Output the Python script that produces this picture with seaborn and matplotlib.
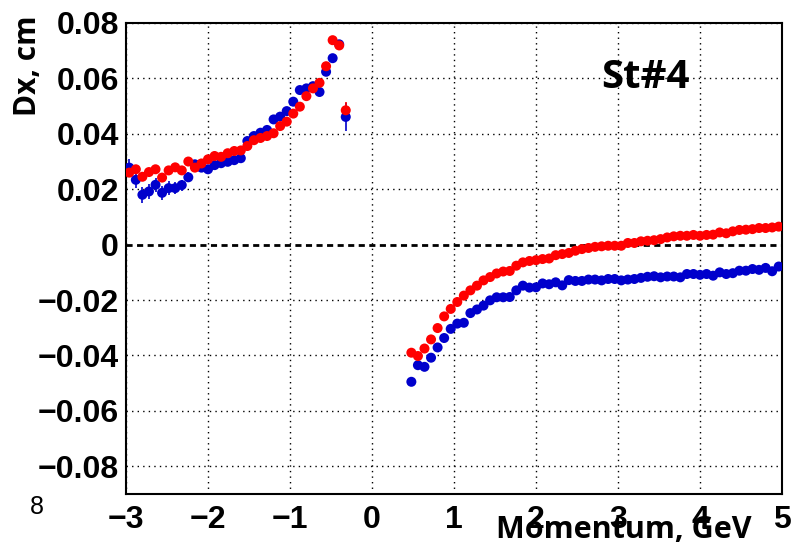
import numpy as np
import pandas as pd
import matplotlib
matplotlib.use("Agg")
import matplotlib.pyplot as plt
from matplotlib.ticker import MultipleLocator
import seaborn as sns

# Bin centres (GeV) for negative and positive momenta
p_neg = [-2.96, -2.88, -2.80, -2.72, -2.64, -2.56, -2.48, -2.40, -2.32, -2.24,
         -2.16, -2.08, -2.00, -1.92, -1.84, -1.76, -1.68, -1.60, -1.52, -1.44,
         -1.36, -1.28, -1.20, -1.12, -1.04, -0.96, -0.88, -0.80, -0.72, -0.64,
         -0.56, -0.48, -0.40, -0.32]
p_pos = [0.48, 0.56, 0.64, 0.72, 0.80, 0.88, 0.96, 1.04, 1.12, 1.20,
         1.28, 1.36, 1.44, 1.52, 1.60, 1.68, 1.76, 1.84, 1.92, 2.00,
         2.08, 2.16, 2.24, 2.32, 2.40, 2.48, 2.56, 2.64, 2.72, 2.80,
         2.88, 2.96, 3.04, 3.12, 3.20, 3.28, 3.36, 3.44, 3.52, 3.60,
         3.68, 3.76, 3.84, 3.92, 4.00, 4.08, 4.16, 4.24, 4.32, 4.40,
         4.48, 4.56, 4.64, 4.72, 4.80, 4.88, 4.96]

# Dx (cm), red series
red_neg = [0.0260, 0.0272, 0.0245, 0.0262, 0.0272, 0.0242, 0.0268, 0.0279, 0.0268, 0.0300,
           0.0278, 0.0293, 0.0308, 0.0320, 0.0317, 0.0330, 0.0338, 0.0340, 0.0356, 0.0377,
           0.0385, 0.0392, 0.0402, 0.0428, 0.0444, 0.0473, 0.0498, 0.0536, 0.0564, 0.0584,
           0.0644, 0.0738, 0.0719, 0.0485]
red_pos = [-0.0390, -0.0402, -0.0375, -0.0342, -0.0301, -0.0259, -0.0232, -0.0207, -0.0184, -0.0165,
           -0.0148, -0.0129, -0.0117, -0.0104, -0.0097, -0.0095, -0.0076, -0.0064, -0.0059, -0.0056,
           -0.0052, -0.0050, -0.0038, -0.0034, -0.0030, -0.0022, -0.0016, -0.0012, -0.0008, -0.0006,
           -0.0004, -0.0004, -0.0004, 0.0006, 0.0006, 0.0012, 0.0014, 0.0016, 0.0020, 0.0026,
           0.0030, 0.0032, 0.0032, 0.0035, 0.0032, 0.0035, 0.0036, 0.0044, 0.0041, 0.0048,
           0.0053, 0.0054, 0.0056, 0.0060, 0.0060, 0.0062, 0.0065]

# Dx (cm), blue series
blue_neg = [0.0278, 0.0234, 0.0180, 0.0192, 0.0216, 0.0187, 0.0204, 0.0204, 0.0215, 0.0243,
            0.0290, 0.0278, 0.0272, 0.0287, 0.0294, 0.0299, 0.0305, 0.0312, 0.0374, 0.0392,
            0.0404, 0.0414, 0.0452, 0.0462, 0.0482, 0.0516, 0.0558, 0.0564, 0.0572, 0.0551,
            0.0624, 0.0673, 0.0723, 0.0461]
blue_pos = [-0.0495, -0.0435, -0.0441, -0.0408, -0.0371, -0.0337, -0.0304, -0.0285, -0.0282, -0.0247,
            -0.0234, -0.0220, -0.0201, -0.0190, -0.0190, -0.0189, -0.0165, -0.0148, -0.0155, -0.0154,
            -0.0140, -0.0143, -0.0136, -0.0147, -0.0128, -0.0131, -0.0131, -0.0126, -0.0126, -0.0129,
            -0.0124, -0.0124, -0.0129, -0.0126, -0.0124, -0.0120, -0.0116, -0.0114, -0.0118, -0.0115,
            -0.0115, -0.0118, -0.0106, -0.0106, -0.0109, -0.0106, -0.0112, -0.0100, -0.0106, -0.0103,
            -0.0094, -0.0094, -0.0088, -0.0091, -0.0084, -0.0096, -0.0079]

# Statistical uncertainties (cm)
red_neg_err = [0.0015] * 33 + [0.0030]
blue_neg_err = [0.0030, 0.0028, 0.0028, 0.0026, 0.0026, 0.0026, 0.0024, 0.0022, 0.0020, 0.0018] + [0.0012] * 23 + [0.0050]
red_pos_err = [0.0010] * 57
blue_pos_err = [0.0016] + [0.0008] * 56

x_ticks = [-3, -2, -1, 0, 1, 2, 3, 4, 5]
y_ticks = [-0.08, -0.06, -0.04, -0.02, 0, 0.02, 0.04, 0.06, 0.08]

BLUE = "#0000cc"
RED = "#ff0000"

sns.set_style("white")
plt.rcParams.update({
    "axes.unicode_minus": True,
    "text.color": "black",
    "axes.labelcolor": "black",
    "xtick.color": "black",
    "ytick.color": "black",
    "axes.edgecolor": "black",
})

df = pd.DataFrame({
    "p": p_neg + p_pos + p_neg + p_pos,
    "dx": blue_neg + blue_pos + red_neg + red_pos,
    "err": blue_neg_err + blue_pos_err + red_neg_err + red_pos_err,
    "set": ["blue"] * (len(p_neg) + len(p_pos)) + ["red"] * (len(p_neg) + len(p_pos)),
})

fig = plt.figure(figsize=(7.93, 5.54), dpi=100)
ax = fig.add_axes([126 / 793, 60 / 554, 656 / 793, 471 / 554])

# dotted grid at major ticks and dashed zero line
for xv in x_ticks:
    ax.axvline(xv, color="black", lw=1.0, ls=(0, (1, 3)), zorder=1)
for yv in y_ticks:
    if yv != 0:
        ax.axhline(yv, color="black", lw=1.0, ls=(0, (1, 3)), zorder=1)
ax.axhline(0, color="black", lw=2.0, ls=(0, (2.2, 1.6)), zorder=1)

# error bars under the markers
for name, col in (("blue", BLUE), ("red", RED)):
    sub = df[df["set"] == name]
    ax.errorbar(sub["p"], sub["dx"], yerr=sub["err"], fmt="none",
                ecolor=col, elinewidth=1.2, capsize=0, zorder=2)

sns.scatterplot(data=df, x="p", y="dx", hue="set", hue_order=["blue", "red"],
                palette={"blue": BLUE, "red": RED}, s=52, linewidth=0,
                legend=False, ax=ax, zorder=3)

ax.set_xlim(-3, 5)
ax.set_ylim(-0.09, 0.08)
ax.set_xticks(x_ticks)
ax.set_yticks(y_ticks)
ax.xaxis.set_minor_locator(MultipleLocator(0.2))
ax.yaxis.set_minor_locator(MultipleLocator(0.005))
ax.set_xticklabels([f"{v:g}".replace("-", "\u2212") for v in x_ticks])
ax.set_yticklabels(["0" if v == 0 else f"{v:.2f}".replace("-", "\u2212") for v in y_ticks])
ax.tick_params(axis="x", which="major", direction="in", length=13, width=1.2, pad=8,
               top=False, labelsize=23, colors="black")
ax.tick_params(axis="x", which="minor", direction="in", length=6.5, width=1.0, top=False)
ax.tick_params(axis="y", which="major", direction="in", length=20, width=1.2, pad=5,
               right=False, labelsize=23, colors="black")
ax.tick_params(axis="y", which="minor", direction="in", length=10, width=1.0, right=False)
for lab in ax.get_xticklabels() + ax.get_yticklabels():
    lab.set_fontfamily("Liberation Sans")
    lab.set_fontweight("bold")
for sp in ax.spines.values():
    sp.set_linewidth(1.5)
    sp.set_color("black")
ax.set_xlabel("")
ax.set_ylabel("")

fig.text(752 / 793, 1 - 538 / 554, "Momentum, GeV", ha="right", va="baseline",
         fontsize=22, fontweight="bold", family="Open Sans", color="black")
fig.text(28 / 793, 1 - 16 / 554, "Dx, cm", ha="center", va="top", rotation=90,
         fontsize=21.5, fontweight="bold", family="Open Sans", color="black")
ax.text(645 / 793, 1 - 78 / 554, "St#4", transform=fig.transFigure, ha="center",
        va="center", fontsize=29, fontweight="bold", family="Open Sans", color="black")
fig.text(37 / 793, 1 - 507 / 554, "8", ha="center", va="center", fontsize=18,
         family="Liberation Sans", color="black")

fig.savefig("out.png", dpi=100)
